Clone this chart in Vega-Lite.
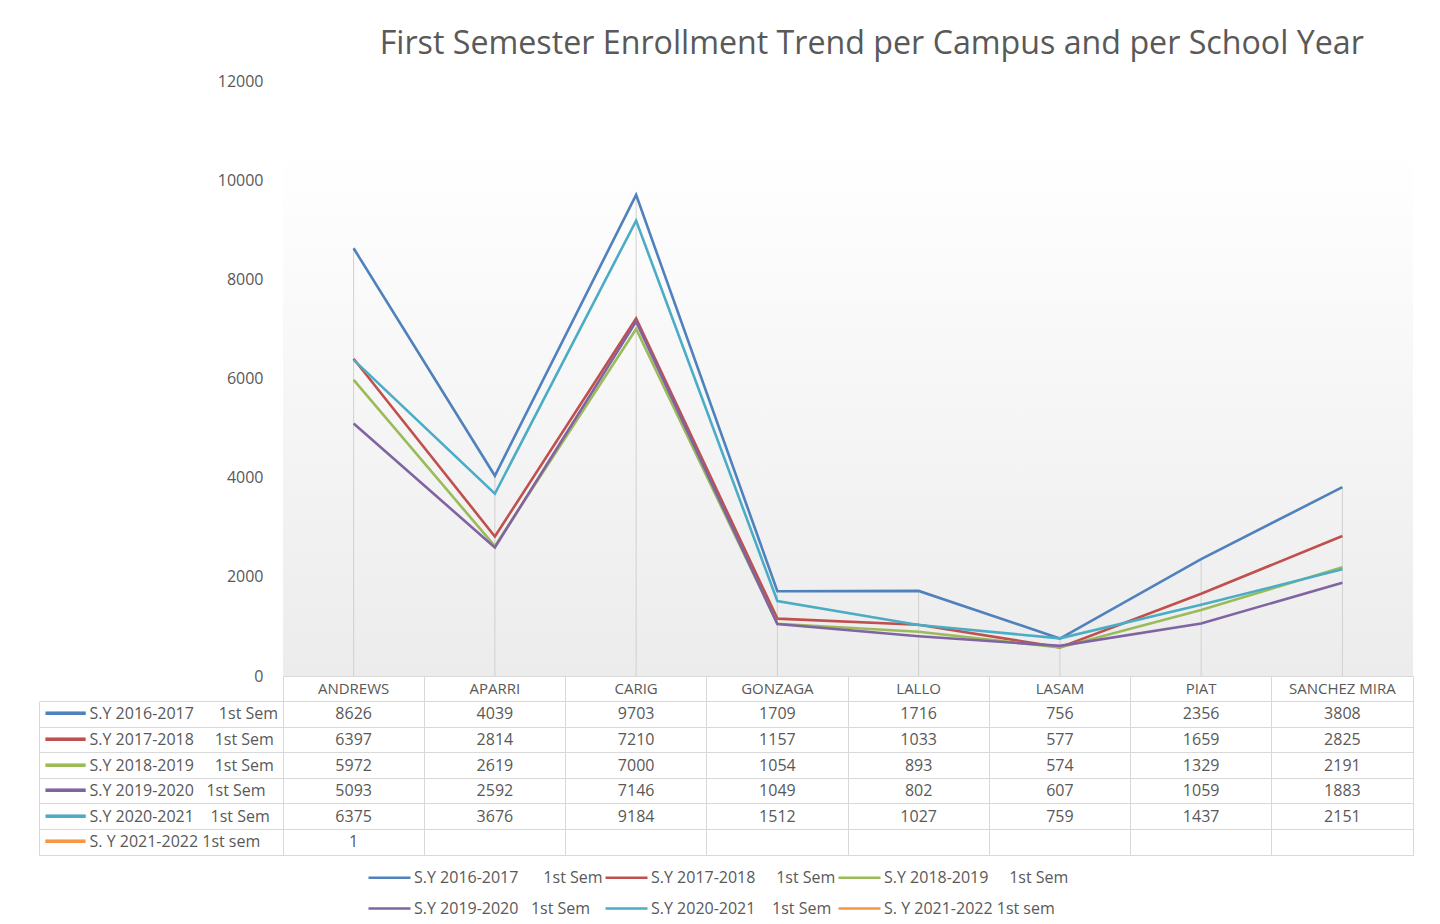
{
  "$schema": "https://vega.github.io/schema/vega-lite/v6.json",
  "padding": {"left": 38, "top": 27, "right": 28, "bottom": 8},
  "background": "white",
  "spacing": 0,
  "bounds": "flush",
  "config": {"font": "Open Sans", "view": {"stroke": null}, "concat": {"spacing": 0}},
  "title": {"text": "First Semester Enrollment Trend per Campus and per School Year", "fontSize": 32.2, "font": "Open Sans", "fontWeight": "normal", "color": "#595959", "anchor": "middle", "dx": 146, "offset": 12},
  "datasets": {
    "enroll": [
      {"campus": "ANDREWS", "series": "S.Y 2016-2017\u00a0\u00a0\u00a0\u00a0\u00a0\u00a01st Sem", "value": 8626},
      {"campus": "APARRI", "series": "S.Y 2016-2017\u00a0\u00a0\u00a0\u00a0\u00a0\u00a01st Sem", "value": 4039},
      {"campus": "CARIG", "series": "S.Y 2016-2017\u00a0\u00a0\u00a0\u00a0\u00a0\u00a01st Sem", "value": 9703},
      {"campus": "GONZAGA", "series": "S.Y 2016-2017\u00a0\u00a0\u00a0\u00a0\u00a0\u00a01st Sem", "value": 1709},
      {"campus": "LALLO", "series": "S.Y 2016-2017\u00a0\u00a0\u00a0\u00a0\u00a0\u00a01st Sem", "value": 1716},
      {"campus": "LASAM", "series": "S.Y 2016-2017\u00a0\u00a0\u00a0\u00a0\u00a0\u00a01st Sem", "value": 756},
      {"campus": "PIAT", "series": "S.Y 2016-2017\u00a0\u00a0\u00a0\u00a0\u00a0\u00a01st Sem", "value": 2356},
      {"campus": "SANCHEZ MIRA", "series": "S.Y 2016-2017\u00a0\u00a0\u00a0\u00a0\u00a0\u00a01st Sem", "value": 3808},
      {"campus": "ANDREWS", "series": "S.Y 2017-2018\u00a0\u00a0\u00a0\u00a0\u00a01st Sem", "value": 6397},
      {"campus": "APARRI", "series": "S.Y 2017-2018\u00a0\u00a0\u00a0\u00a0\u00a01st Sem", "value": 2814},
      {"campus": "CARIG", "series": "S.Y 2017-2018\u00a0\u00a0\u00a0\u00a0\u00a01st Sem", "value": 7210},
      {"campus": "GONZAGA", "series": "S.Y 2017-2018\u00a0\u00a0\u00a0\u00a0\u00a01st Sem", "value": 1157},
      {"campus": "LALLO", "series": "S.Y 2017-2018\u00a0\u00a0\u00a0\u00a0\u00a01st Sem", "value": 1033},
      {"campus": "LASAM", "series": "S.Y 2017-2018\u00a0\u00a0\u00a0\u00a0\u00a01st Sem", "value": 577},
      {"campus": "PIAT", "series": "S.Y 2017-2018\u00a0\u00a0\u00a0\u00a0\u00a01st Sem", "value": 1659},
      {"campus": "SANCHEZ MIRA", "series": "S.Y 2017-2018\u00a0\u00a0\u00a0\u00a0\u00a01st Sem", "value": 2825},
      {"campus": "ANDREWS", "series": "S.Y 2018-2019\u00a0\u00a0\u00a0\u00a0\u00a01st Sem", "value": 5972},
      {"campus": "APARRI", "series": "S.Y 2018-2019\u00a0\u00a0\u00a0\u00a0\u00a01st Sem", "value": 2619},
      {"campus": "CARIG", "series": "S.Y 2018-2019\u00a0\u00a0\u00a0\u00a0\u00a01st Sem", "value": 7000},
      {"campus": "GONZAGA", "series": "S.Y 2018-2019\u00a0\u00a0\u00a0\u00a0\u00a01st Sem", "value": 1054},
      {"campus": "LALLO", "series": "S.Y 2018-2019\u00a0\u00a0\u00a0\u00a0\u00a01st Sem", "value": 893},
      {"campus": "LASAM", "series": "S.Y 2018-2019\u00a0\u00a0\u00a0\u00a0\u00a01st Sem", "value": 574},
      {"campus": "PIAT", "series": "S.Y 2018-2019\u00a0\u00a0\u00a0\u00a0\u00a01st Sem", "value": 1329},
      {"campus": "SANCHEZ MIRA", "series": "S.Y 2018-2019\u00a0\u00a0\u00a0\u00a0\u00a01st Sem", "value": 2191},
      {"campus": "ANDREWS", "series": "S.Y 2019-2020\u00a0\u00a0\u00a01st Sem", "value": 5093},
      {"campus": "APARRI", "series": "S.Y 2019-2020\u00a0\u00a0\u00a01st Sem", "value": 2592},
      {"campus": "CARIG", "series": "S.Y 2019-2020\u00a0\u00a0\u00a01st Sem", "value": 7146},
      {"campus": "GONZAGA", "series": "S.Y 2019-2020\u00a0\u00a0\u00a01st Sem", "value": 1049},
      {"campus": "LALLO", "series": "S.Y 2019-2020\u00a0\u00a0\u00a01st Sem", "value": 802},
      {"campus": "LASAM", "series": "S.Y 2019-2020\u00a0\u00a0\u00a01st Sem", "value": 607},
      {"campus": "PIAT", "series": "S.Y 2019-2020\u00a0\u00a0\u00a01st Sem", "value": 1059},
      {"campus": "SANCHEZ MIRA", "series": "S.Y 2019-2020\u00a0\u00a0\u00a01st Sem", "value": 1883},
      {"campus": "ANDREWS", "series": "S.Y 2020-2021\u00a0\u00a0\u00a0\u00a01st Sem", "value": 6375},
      {"campus": "APARRI", "series": "S.Y 2020-2021\u00a0\u00a0\u00a0\u00a01st Sem", "value": 3676},
      {"campus": "CARIG", "series": "S.Y 2020-2021\u00a0\u00a0\u00a0\u00a01st Sem", "value": 9184},
      {"campus": "GONZAGA", "series": "S.Y 2020-2021\u00a0\u00a0\u00a0\u00a01st Sem", "value": 1512},
      {"campus": "LALLO", "series": "S.Y 2020-2021\u00a0\u00a0\u00a0\u00a01st Sem", "value": 1027},
      {"campus": "LASAM", "series": "S.Y 2020-2021\u00a0\u00a0\u00a0\u00a01st Sem", "value": 759},
      {"campus": "PIAT", "series": "S.Y 2020-2021\u00a0\u00a0\u00a0\u00a01st Sem", "value": 1437},
      {"campus": "SANCHEZ MIRA", "series": "S.Y 2020-2021\u00a0\u00a0\u00a0\u00a01st Sem", "value": 2151},
      {"campus": "ANDREWS", "series": "\u00a0S. Y 2021-2022 1st sem", "value": 1}
    ]
  },
  "vconcat": [
    {
      "width": 1130,
      "height": 595,
      "layer": [
        {
          "data": {"values": [{}]},
          "mark": {"type": "rect", "color": {"gradient": "linear", "x1": 0, "y1": 0, "x2": 0, "y2": 1, "stops": [{"offset": 0, "color": "#ffffff"}, {"offset": 1, "color": "#ececec"}]}},
          "encoding": {
            "y": {"datum": 10650, "type": "quantitative", "scale": {"domain": [0, 12000]}, "axis": {"title": null, "values": [0, 2000, 4000, 6000, 8000, 10000, 12000], "format": "d", "domain": false, "ticks": false, "grid": false, "labelPadding": 20, "labelFontSize": 16, "labelColor": "#595959", "labelFont": "Open Sans"}},
            "y2": {"datum": 0}
          }
        },
        {
          "data": {"name": "enroll"},
          "mark": {"type": "rule", "color": "#d0d0d0", "strokeWidth": 1},
          "encoding": {
            "x": {"field": "campus", "type": "nominal", "scale": {"type": "band", "domain": ["ANDREWS", "APARRI", "CARIG", "GONZAGA", "LALLO", "LASAM", "PIAT", "SANCHEZ MIRA"], "paddingInner": 0, "paddingOuter": 0}, "axis": null},
            "y": {"aggregate": "max", "field": "value", "type": "quantitative", "title": null},
            "y2": {"datum": 0}
          }
        },
        {
          "data": {"name": "enroll"},
          "mark": {"type": "line", "strokeWidth": 2.6},
          "encoding": {
            "x": {"field": "campus", "type": "nominal", "scale": {"type": "band", "domain": ["ANDREWS", "APARRI", "CARIG", "GONZAGA", "LALLO", "LASAM", "PIAT", "SANCHEZ MIRA"], "paddingInner": 0, "paddingOuter": 0}, "axis": null},
            "y": {"field": "value", "type": "quantitative", "title": null},
            "color": {
              "field": "series",
              "type": "nominal",
              "scale": {
                "domain": ["S.Y 2016-2017\u00a0\u00a0\u00a0\u00a0\u00a0\u00a01st Sem", "S.Y 2017-2018\u00a0\u00a0\u00a0\u00a0\u00a01st Sem", "S.Y 2018-2019\u00a0\u00a0\u00a0\u00a0\u00a01st Sem", "S.Y 2019-2020\u00a0\u00a0\u00a01st Sem", "S.Y 2020-2021\u00a0\u00a0\u00a0\u00a01st Sem", "\u00a0S. Y 2021-2022 1st sem"],
                "range": ["#4F81BD", "#C0504D", "#9BBB59", "#8064A2", "#4BACC6", "#F79646"]
              },
              "legend": {"orient": "none", "legendX": 90, "legendY": 780, "direction": "horizontal", "columns": 3, "title": null, "symbolType": "M-1.4,0H1.4", "symbolSize": 900, "symbolStrokeWidth": 2.5, "labelFontSize": 16, "labelFont": "Open Sans", "labelColor": "#595959", "labelOffset": 8, "labelLimit": 300, "columnPadding": -3, "rowPadding": 6, "padding": 0}
            }
          }
        }
      ]
    },
    {
      "width": 1130,
      "height": 179,
      "view": {"stroke": "#d9d9d9"},
      "data": {"name": "enroll"},
      "resolve": {"axis": {"y": "independent"}},
      "layer": [
        {
          "mark": {"type": "text", "fontSize": 16, "color": "#595959", "font": "Open Sans"},
          "encoding": {
            "x": {"field": "campus", "type": "nominal", "scale": {"type": "band", "domain": ["ANDREWS", "APARRI", "CARIG", "GONZAGA", "LALLO", "LASAM", "PIAT", "SANCHEZ MIRA"], "paddingInner": 0, "paddingOuter": 0}, "axis": {"title": null, "grid": true, "gridColor": "#d9d9d9", "bandPosition": 0, "labels": false, "ticks": false, "domain": false}},
            "y": {
              "field": "series", "type": "nominal",
              "scale": {"type": "band", "domain": ["header", "S.Y 2016-2017\u00a0\u00a0\u00a0\u00a0\u00a0\u00a01st Sem", "S.Y 2017-2018\u00a0\u00a0\u00a0\u00a0\u00a01st Sem", "S.Y 2018-2019\u00a0\u00a0\u00a0\u00a0\u00a01st Sem", "S.Y 2019-2020\u00a0\u00a0\u00a01st Sem", "S.Y 2020-2021\u00a0\u00a0\u00a0\u00a01st Sem", "\u00a0S. Y 2021-2022 1st sem"], "paddingInner": 0, "paddingOuter": 0},
              "axis": {"orient": "left", "title": null, "domain": false, "ticks": true, "tickSize": 244, "tickColor": "#d9d9d9", "bandPosition": 1, "grid": true, "gridColor": "#d9d9d9", "labelAlign": "left", "labelBaseline": "middle", "labelPadding": -50, "labelOffset": 0, "labelLimit": 300, "labelFontSize": 16, "labelFont": "Open Sans", "labelColor": "#595959", "labelExpr": "datum.value === 'header' ? '' : datum.label"}
            },
            "text": {"field": "value", "type": "quantitative", "format": "d"}
          }
        },
        {
          "transform": [{"filter": "indexof(datum.series, '2016') >= 0"}],
          "mark": {"type": "text", "fontSize": 15, "color": "#595959", "font": "Open Sans"},
          "encoding": {
            "x": {"field": "campus", "type": "nominal", "scale": {"type": "band", "domain": ["ANDREWS", "APARRI", "CARIG", "GONZAGA", "LALLO", "LASAM", "PIAT", "SANCHEZ MIRA"], "paddingInner": 0, "paddingOuter": 0}, "axis": {"title": null, "grid": true, "gridColor": "#d9d9d9", "bandPosition": 0, "labels": false, "ticks": false, "domain": false}},
            "y": {
              "datum": "header", "type": "nominal",
              "scale": {"type": "band", "domain": ["header", "S.Y 2016-2017\u00a0\u00a0\u00a0\u00a0\u00a0\u00a01st Sem", "S.Y 2017-2018\u00a0\u00a0\u00a0\u00a0\u00a01st Sem", "S.Y 2018-2019\u00a0\u00a0\u00a0\u00a0\u00a01st Sem", "S.Y 2019-2020\u00a0\u00a0\u00a01st Sem", "S.Y 2020-2021\u00a0\u00a0\u00a0\u00a01st Sem", "\u00a0S. Y 2021-2022 1st sem"], "paddingInner": 0, "paddingOuter": 0},
              "axis": {
                "orient": "left", "offset": 244, "title": null, "domain": true, "domainColor": "#d9d9d9", "domainDash": [0, 25.57, 153.43], "ticks": false, "tickSize": 0, "grid": false,
                "labelAlign": "left", "labelBaseline": "middle", "labelPadding": -6, "labelFont": "DejaVu Sans", "labelFontSize": 22, "labelLimit": 100,
                "labelExpr": "datum.value === 'header' ? '' : '━━━'",
                "labelColor": {"condition": [
                  {"test": "indexof(datum.value, '2016') >= 0", "value": "#4F81BD"},
                  {"test": "indexof(datum.value, '2017-2018') >= 0", "value": "#C0504D"},
                  {"test": "indexof(datum.value, '2018-2019') >= 0", "value": "#9BBB59"},
                  {"test": "indexof(datum.value, '2019-2020') >= 0", "value": "#8064A2"},
                  {"test": "indexof(datum.value, '2020-2021') >= 0", "value": "#4BACC6"}
                ], "value": "#F79646"}
              }
            },
            "text": {"field": "campus", "type": "nominal"}
          }
        }
      ]
    }
  ]
}
